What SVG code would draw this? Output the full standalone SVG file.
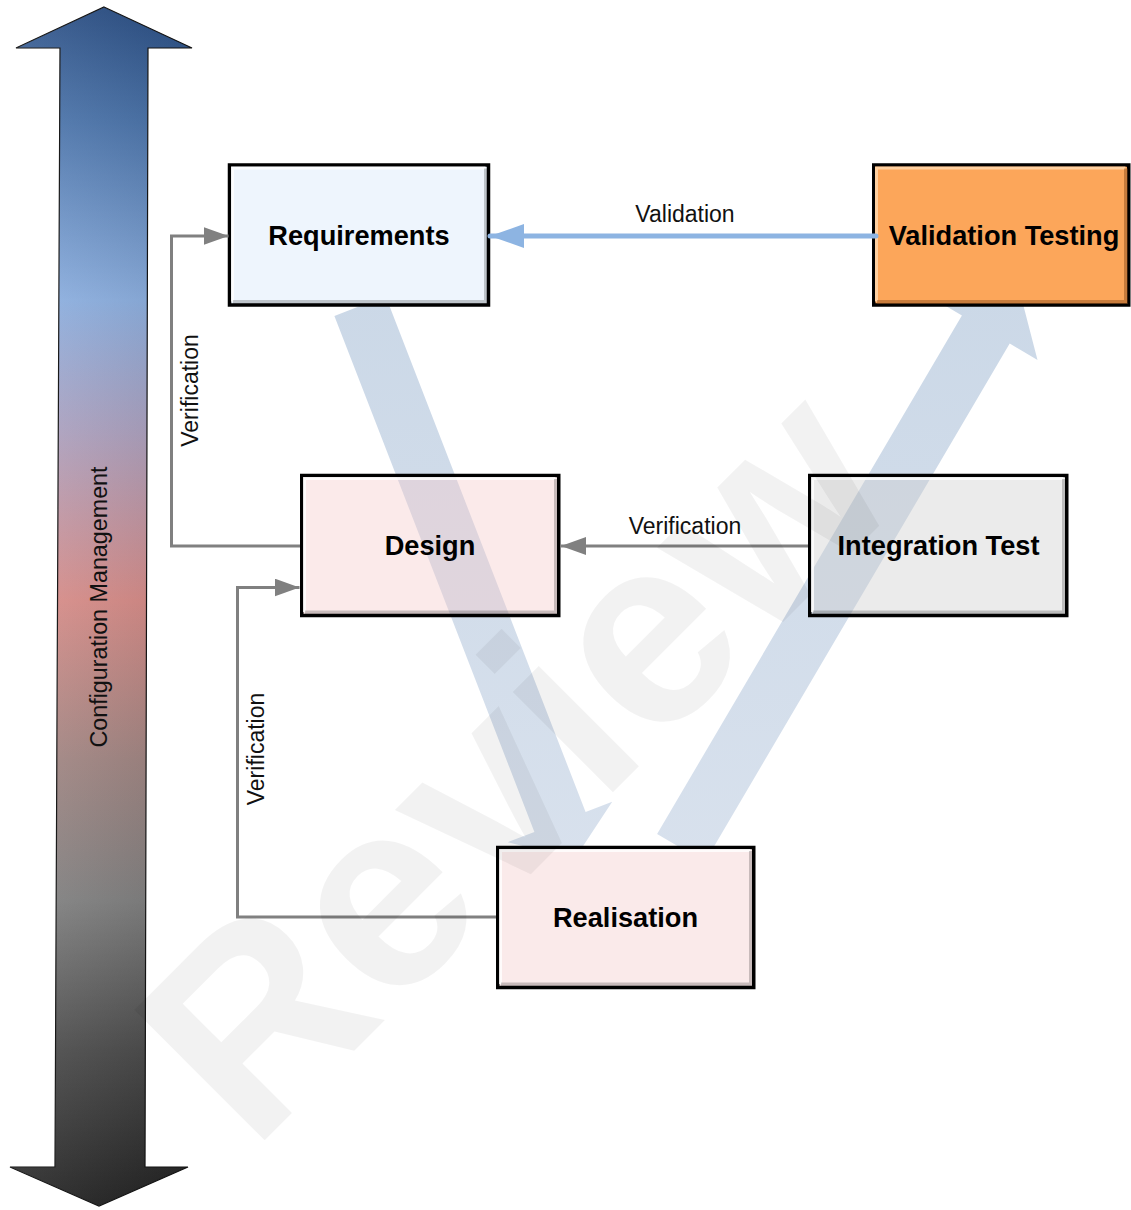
<svg xmlns="http://www.w3.org/2000/svg" width="1131" height="1210" viewBox="0 0 1131 1210">
<defs>
<style>
.box{stroke:#000;stroke-width:3.5}
.hi{fill:none;stroke:#fff;stroke-width:3;stroke-opacity:.8}
.lo{fill:none;stroke:#000;stroke-width:4;stroke-opacity:.2}
.lbl{font-family:"Liberation Sans",Arial,sans-serif;font-weight:bold;font-size:27.2px;fill:#000;text-anchor:middle}
.clbl{font-family:"Liberation Sans",Arial,sans-serif;font-size:23px;fill:#111;text-anchor:middle}
.gray{fill:none;stroke:#808080;stroke-width:3}
.band{fill:url(#bandGrad)}
</style>
<linearGradient id="cmGrad" gradientUnits="userSpaceOnUse" x1="0" y1="7" x2="0" y2="1208">
<stop offset="0" stop-color="#2A4F86"/>
<stop offset="0.094" stop-color="#4A74AC"/>
<stop offset="0.244" stop-color="#8DB1E3"/>
<stop offset="0.352" stop-color="#AEA3C2"/>
<stop offset="0.494" stop-color="#DA8D89"/>
<stop offset="0.627" stop-color="#A28683"/>
<stop offset="0.744" stop-color="#808080"/>
<stop offset="0.869" stop-color="#4A4A4A"/>
<stop offset="1" stop-color="#1F1F1F"/>
</linearGradient>
<linearGradient id="cmShade" gradientUnits="userSpaceOnUse" x1="10" y1="0" x2="192" y2="0">
<stop offset="0" stop-color="#fff" stop-opacity="0.10"/>
<stop offset="1" stop-color="#000" stop-opacity="0.10"/>
</linearGradient>
<linearGradient id="bandGrad" gradientUnits="userSpaceOnUse" x1="0" y1="290" x2="0" y2="870">
<stop offset="0" stop-color="#CBD8E7"/>
<stop offset="1" stop-color="#D8E1ED"/>
</linearGradient>
<marker id="arrGray" viewBox="0 0 25 18" refX="25" refY="9" markerWidth="25" markerHeight="18" markerUnits="userSpaceOnUse" orient="auto">
<path d="M0,0 L25,9 L0,18 Z" fill="#808080"/>
</marker>
<marker id="arrBlue" viewBox="0 0 34 24" refX="34" refY="12" markerWidth="34" markerHeight="24" markerUnits="userSpaceOnUse" orient="auto">
<path d="M0,0 L34,12 L0,24 Z" fill="#8DB4E2"/>
</marker>
</defs>

<rect width="1131" height="1210" fill="#fff"/>

<g id="configuration-management">
<polygon points="104,7 192,48 148,48 145,1167 188,1167 99,1206 10,1167 55,1167 60,48 16,48" fill="url(#cmGrad)" stroke="#111" stroke-width="1.2"/>
<polygon points="104,7 192,48 148,48 145,1167 188,1167 99,1206 10,1167 55,1167 60,48 16,48" fill="url(#cmShade)"/>
<text class="clbl" transform="translate(107,607) rotate(-90)" style="font-size:23.3px">Configuration Management</text>
</g>

<g id="v-model">
<polygon class="band" points="334.4,315.9 385.6,296.1 585.6,812.1 612.2,801.8 574.4,859.3 507.8,842.2 534.4,831.9"/>
<polygon class="band" points="657.1,834 961.9,315.5 934.1,299.1 1016.2,277.8 1037.5,359.9 1009.7,343.5 704.9,862"/>
</g>

<g id="design">
<rect class="box" x="301.75" y="475.5" width="257" height="140" fill="#F5CACA" fill-opacity="0.4"/>
<path class="hi" d="M304.5,612 V478.5 H555.5"/>
<path class="lo" d="M305,612.5 H556 V479"/>
<text class="lbl" x="430" y="555">Design</text>
</g>

<g id="integration-test">
<rect class="box" x="809.75" y="475.5" width="257" height="140" fill="#CDCDCD" fill-opacity="0.4"/>
<path class="hi" d="M812.5,612 V478.5 H1063.5"/>
<path class="lo" d="M813,612.5 H1064 V479"/>
<text class="lbl" x="938.5" y="555">Integration Test</text>
</g>

<g id="realisation">
<rect class="box" x="497.75" y="847.5" width="256" height="140" fill="#FAEAEA"/>
<path class="hi" d="M500.5,984 V850.5 H750.5"/>
<path class="lo" d="M501,984.5 H751 V851"/>
<text class="lbl" x="625.5" y="927">Realisation</text>
</g>

<g id="requirements">
<rect class="box" x="229.5" y="165" width="259" height="140" fill="#EEF5FD"/>
<path class="hi" d="M232.5,301.5 V168 H485.5"/>
<path class="lo" d="M233,302 H486 V168.5"/>
<text class="lbl" x="359" y="244.5">Requirements</text>
</g>

<g id="validation-testing">
<rect class="box" x="873.75" y="165" width="255" height="140" fill="#FCA65A"/>
<path d="M876.5,301.5 V168 H1125.5" fill="none" stroke="#FFD0A0" stroke-width="3"/>
<path d="M877,302 H1126 V168.5" fill="none" stroke="#8A4A18" stroke-width="4" stroke-opacity="0.45"/>
<text class="lbl" x="1004" y="244.5">Validation Testing</text>
</g>

<g id="connectors">
<path d="M876,236 H490" fill="none" stroke="#8DB4E2" stroke-width="5" stroke-linecap="round" marker-end="url(#arrBlue)"/>
<text class="clbl" x="685" y="222">Validation</text>
<path class="gray" d="M808,546 H561" marker-end="url(#arrGray)"/>
<text class="clbl" x="685" y="534">Verification</text>
<path class="gray" d="M300,546 H171.5 V236 H228.5" marker-end="url(#arrGray)"/>
<text class="clbl" transform="translate(198,390.5) rotate(-90)">Verification</text>
<path class="gray" d="M496,917 H237.5 V587.5 H299.5" marker-end="url(#arrGray)"/>
<text class="clbl" transform="translate(264,749) rotate(-90)">Verification</text>
</g>

<g id="watermark">
<text transform="translate(252,1153) rotate(-45)" x="0" y="0" style="font-family:'Liberation Sans',Arial,sans-serif;font-weight:bold;font-size:268px;fill:#000;fill-opacity:0.05">Review</text>
</g>
</svg>
